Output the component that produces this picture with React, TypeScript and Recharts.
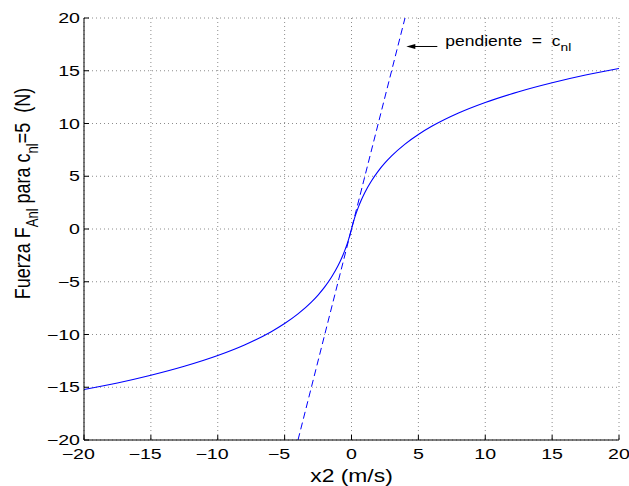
import React from 'react';
import { LineChart, Line, XAxis, YAxis, CartesianGrid, ReferenceDot } from 'recharts';

const FONT = '"Liberation Sans", Arial, Helvetica, sans-serif';

const xTicks = [-20, -15, -10, -5, 0, 5, 10, 15, 20];
const yTicks = [-20, -15, -10, -5, 0, 5, 10, 15, 20];

// solid curve
const curveX = [-20, -17.5, -15, -12.5, -10, -8, -6, -5, -4, -3, -2.5, -2, -1.5, -1, -0.75, -0.5, -0.25, 0,
  0.25, 0.5, 0.75, 1, 1.5, 2, 2.5, 3, 4, 5, 6, 8, 10, 12.5, 15, 17.5, 20];
const curveY = [-15.22, -14.59, -13.86, -13.01, -11.99, -10.99, -9.73, -8.96, -8.05, -6.93, -6.26, -5.49, -4.58, -3.47, -2.8, -2.03, -1.12, 0,
  1.12, 2.03, 2.8, 3.47, 4.58, 5.49, 6.26, 6.93, 8.05, 8.96, 9.73, 10.99, 11.99, 13.01, 13.86, 14.59, 15.22];

// dashed line, slope = c_nl
const slopeX = [-4, 4];
const slopeY = [-20, 20];

// where the annotation arrow points
const arrowTip = { x: 4.1, y: 17.3 };

const curveData = curveX.map((x, i) => ({ x, y: curveY[i] }));
const slopeData = slopeX.map((x, i) => ({ x, y: slopeY[i] }));

const fmt = (v: number) => (v < 0 ? '\u2212' + Math.abs(v) : String(v));

// digits centred on the tick, minus sign hangs to the left (MATLAB style)
const XTick = ({ x, y, payload }: any) => (
  <g transform={`translate(${x},${y}) scale(1.4,1)`}>
    <text
      x={0}
      y={0}
      dy={19}
      dx={payload.value < 0 ? -4.1 : 0}
      textAnchor="middle"
      fontSize={14}
      fill="#000"
      fontFamily={FONT}
    >
      {fmt(payload.value)}
    </text>
  </g>
);

const YTick = ({ x, y, payload }: any) => (
  <g transform={`translate(${x},${y}) scale(1.4,1)`}>
    <text x={0} y={0} dy={5} textAnchor="end" fontSize={14} fill="#000" fontFamily={FONT}>
      {fmt(payload.value)}
    </text>
  </g>
);

const XLabel = () => (
  <g transform="translate(351.5,482) scale(1.27,1)">
    <text x={0} y={0} textAnchor="middle" fontSize={18} fill="#000" fontFamily={FONT}>
      x2 (m/s)
    </text>
  </g>
);

const YLabel = () => (
  <g transform="translate(30,193.5) scale(1.27,1) rotate(-90)">
    <text x={0} y={0} textAnchor="middle" fontSize={18} fill="#000" fontFamily={FONT} style={{ whiteSpace: 'pre' }}>
      Fuerza F<tspan fontSize={13} dy={6}>Anl</tspan>
      <tspan dy={-6}> para c</tspan>
      <tspan fontSize={13} dy={6}>nl</tspan>
      <tspan dy={-6}>=5  (N)</tspan>
    </text>
  </g>
);

const Annotation = ({ cx, cy }: any) => (
  <g>
    <line x1={cx + 8} y1={cy} x2={cx + 31} y2={cy} stroke="#000" strokeWidth={1} />
    <polygon points={`${cx},${cy} ${cx + 9},${cy - 2.5} ${cx + 9},${cy + 2.5}`} fill="#000" />
    <g transform={`translate(${cx + 39},${cy - 0.5}) scale(1.25,1)`}>
      <text x={0} y={0} fontSize={14} fill="#000" fontFamily={FONT} style={{ whiteSpace: 'pre' }}>
        pendiente  =  c<tspan fontSize={11} dy={5}>nl</tspan>
      </text>
    </g>
  </g>
);

export default function App() {
  return (
    <div style={{ position: 'absolute', left: 0, top: 0, width: 629, height: 486, background: '#fff' }}>
      <LineChart width={629} height={486} margin={{ top: 18, right: 10, left: 24, bottom: 16 }}>
        <CartesianGrid stroke="#8c8c8c" strokeDasharray="1 3" />
        <XAxis
          xAxisId={0}
          dataKey="x"
          type="number"
          domain={[-20, 20]}
          ticks={xTicks}
          allowDataOverflow
          height={30}
          tickSize={-5}
          tickMargin={5}
          tick={<XTick />}
          axisLine={{ stroke: '#000' }}
          tickLine={{ stroke: '#000' }}
          label={<XLabel />}
        />
        <XAxis
          xAxisId="top"
          orientation="top"
          dataKey="x"
          type="number"
          domain={[-20, 20]}
          ticks={xTicks}
          height={0}
          tickSize={-5}
          tick={false}
          axisLine={{ stroke: '#000' }}
          tickLine={{ stroke: '#000' }}
        />
        <YAxis
          yAxisId={0}
          type="number"
          domain={[-20, 20]}
          ticks={yTicks}
          allowDataOverflow
          width={60}
          tickSize={-5}
          tickMargin={9}
          tick={<YTick />}
          axisLine={{ stroke: '#000' }}
          tickLine={{ stroke: '#000' }}
          label={<YLabel />}
        />
        <YAxis
          yAxisId="right"
          orientation="right"
          type="number"
          domain={[-20, 20]}
          ticks={yTicks}
          width={0}
          tickSize={-5}
          tick={false}
          axisLine={{ stroke: '#000' }}
          tickLine={{ stroke: '#000' }}
        />
        <Line
          data={slopeData}
          dataKey="y"
          type="linear"
          stroke="#0000ff"
          strokeWidth={1}
          strokeDasharray="7 4"
          dot={false}
          activeDot={false}
          isAnimationActive={false}
        />
        <Line
          data={curveData}
          dataKey="y"
          type="monotone"
          stroke="#0000ff"
          strokeWidth={1.1}
          dot={false}
          activeDot={false}
          isAnimationActive={false}
        />
        <ReferenceDot
          x={arrowTip.x}
          y={arrowTip.y}
          r={0}
          ifOverflow="visible"
          shape={(p: any) => <Annotation cx={p.cx} cy={p.cy} />}
        />
      </LineChart>
    </div>
  );
}
